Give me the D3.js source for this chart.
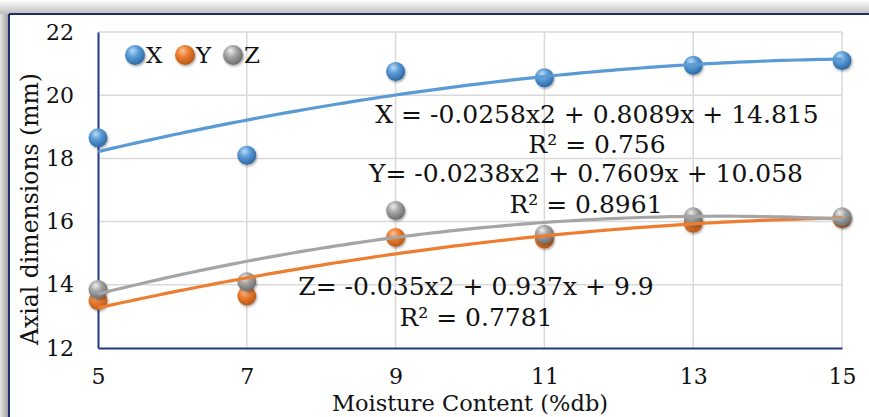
<!DOCTYPE html>
<html>
<head>
<meta charset="utf-8">
<script src="https://cdn.jsdelivr.net/npm/d3@7"></script>
<style>
  body { margin: 0; background: #fff; }
  text { font-family: "DejaVu Serif", serif; fill: #111; }
</style>
</head>
<body>
<div id="chart"></div>
<script>
// data
var moisture = [5, 7, 9, 11, 13, 15];
var xValues = [18.65, 18.1, 20.75, 20.55, 20.95, 21.1];
var yValues = [13.5, 13.65, 15.5, 15.45, 15.95, 16.1];
var zValues = [13.85, 14.1, 16.35, 15.6, 16.15, 16.15];
var seriesNames = ["X", "Y", "Z"];
// trendline coefficients [a, b, c] for a*x^2 + b*x + c, as printed on the chart
var xCoef = [-0.0258, 0.8089, 14.815];
var yCoef = [-0.0238, 0.7609, 10.058];
var zCoef = [-0.035, 0.937, 9.9];
var equationLabels = [
    ["X = -0.0258x2 + 0.8089x + 14.815", "R² = 0.756"],
    ["Y= -0.0238x2 + 0.7609x + 10.058", "R² = 0.8961"],
    ["Z= -0.035x2 + 0.937x + 9.9", "R² = 0.7781"]
];
var xTicks = [5, 7, 9, 11, 13, 15];
var yTicks = [12, 14, 16, 18, 20, 22];

function init() {
    var w = 869;
    var h = 417;
    var colors = ["#5b9bd5", "#ed7d31", "#a5a5a5"];
    var dark = ["#2e6aa6", "#b85a17", "#6e6e6e"];
    var light = ["#b9dbf7", "#fbc297", "#eeeeee"];

    var svg = d3.select("#chart").append("svg")
        .attr("width", w)
        .attr("height", h);

    var defs = svg.append("defs");

    // frame shadow gradients
    var gTop = defs.append("linearGradient").attr("id", "shTop")
        .attr("x1", 0).attr("y1", 0).attr("x2", 0).attr("y2", 1);
    gTop.append("stop").attr("offset", "0%").attr("stop-color", "#ffffff");
    gTop.append("stop").attr("offset", "100%").attr("stop-color", "#bdbdbd");
    var gLeft = defs.append("linearGradient").attr("id", "shLeft")
        .attr("x1", 0).attr("y1", 0).attr("x2", 1).attr("y2", 0);
    gLeft.append("stop").attr("offset", "0%").attr("stop-color", "#e6e6e6");
    gLeft.append("stop").attr("offset", "100%").attr("stop-color", "#9a9a9a");

    // sphere gradients for markers
    colors.forEach(function(c, i) {
        var g = defs.append("radialGradient").attr("id", "ball" + i)
            .attr("cx", "40%").attr("cy", "35%").attr("r", "65%")
            .attr("fx", "38%").attr("fy", "28%");
        g.append("stop").attr("offset", "0%").attr("stop-color", light[i]);
        g.append("stop").attr("offset", "45%").attr("stop-color", c);
        g.append("stop").attr("offset", "100%").attr("stop-color", dark[i]);
    });
    var f = defs.append("filter").attr("id", "drop")
        .attr("x", "-50%").attr("y", "-50%").attr("width", "200%").attr("height", "200%");
    f.append("feDropShadow").attr("dx", 1).attr("dy", 1.5).attr("stdDeviation", 1.3)
        .attr("flood-color", "#000").attr("flood-opacity", 0.35);

    // chart frame
    svg.append("rect").attr("x", 0).attr("y", 0).attr("width", w).attr("height", 14)
        .attr("fill", "url(#shTop)");
    svg.append("rect").attr("x", 0).attr("y", 14).attr("width", 9).attr("height", h - 14)
        .attr("fill", "url(#shLeft)");
    svg.append("line").attr("x1", 9).attr("y1", 14).attr("x2", w).attr("y2", 14)
        .attr("stroke", "#1f3070").attr("stroke-width", 2);
    svg.append("line").attr("x1", 9).attr("y1", 14).attr("x2", 9).attr("y2", h)
        .attr("stroke", "#1f3070").attr("stroke-width", 2);

    // Scales
    var xScale = d3.scaleLinear().domain([5, 15]).range([98, 842]);
    var yScale = d3.scaleLinear().domain([12, 22]).range([348, 32]);

    // gridlines
    svg.append("g").selectAll("line.v")
        .data(xTicks.slice(1))
        .enter().append("line")
        .attr("x1", d => xScale(d)).attr("x2", d => xScale(d))
        .attr("y1", yScale(22)).attr("y2", yScale(12))
        .attr("stroke", "#d9d9d9").attr("stroke-width", 1.5);
    svg.append("g").selectAll("line.h")
        .data(yTicks.slice(1))
        .enter().append("line")
        .attr("x1", xScale(5)).attr("x2", xScale(15))
        .attr("y1", d => yScale(d)).attr("y2", d => yScale(d))
        .attr("stroke", "#d9d9d9").attr("stroke-width", 1.5);

    // Axes
    var xAxis = d3.axisBottom(xScale).tickValues(xTicks).tickSize(0).tickPadding(20)
        .tickFormat(d3.format("d"));
    var yAxis = d3.axisLeft(yScale).tickValues(yTicks).tickSize(0).tickPadding(24)
        .tickFormat(d3.format("d"));

    var gx = svg.append("g")
        .attr("transform", `translate(0,${yScale(12)})`)
        .call(xAxis);
    var gy = svg.append("g")
        .attr("transform", `translate(${xScale(5)},0)`)
        .call(yAxis);
    [gx, gy].forEach(function(g) {
        g.select(".domain").attr("stroke", "#1f3a82").attr("stroke-width", 2);
        g.selectAll("text").attr("font-size", "22px").attr("font-family", "DejaVu Serif")
            .attr("fill", "#111");
    });

    // axis titles
    svg.append("text")
        .attr("x", 470).attr("y", 411)
        .attr("text-anchor", "middle")
        .attr("font-size", "22.5px")
        .text("Moisture Content (%db)");
    svg.append("text")
        .attr("transform", "translate(38,209)rotate(-90)")
        .attr("text-anchor", "middle")
        .attr("font-size", "23.5px")
        .text("Axial dimensions (mm)");

    var series = [xValues, yValues, zValues];
    var coefs = [xCoef, yCoef, zCoef];

    // markers
    series.forEach(function(vals, i) {
        svg.append("g").selectAll("circle")
            .data(vals)
            .enter().append("circle")
            .attr("cx", (d, j) => xScale(moisture[j]))
            .attr("cy", d => yScale(d))
            .attr("r", 9.5)
            .attr("fill", "url(#ball" + i + ")")
            .attr("filter", "url(#drop)");
    });

    // polynomial trendlines
    var line = d3.line()
        .x(d => xScale(d[0]))
        .y(d => yScale(d[1]));
    var xs = d3.range(5, 15.001, 0.1);
    coefs.forEach(function(c, i) {
        svg.append("path")
            .datum(xs.map(x => [x, c[0] * x * x + c[1] * x + c[2]]))
            .attr("fill", "none")
            .attr("stroke", colors[i])
            .attr("stroke-width", 3.2)
            .attr("d", line);
    });

    // equation labels
    var eqPos = [[597, 123, 153], [586, 182, 213], [476, 295, 326]];
    equationLabels.forEach(function(lbl, i) {
        svg.append("text")
            .attr("x", eqPos[i][0]).attr("y", eqPos[i][1])
            .attr("text-anchor", "middle").attr("font-size", "25px")
            .text(lbl[0]);
        svg.append("text")
            .attr("x", eqPos[i][0]).attr("y", eqPos[i][2])
            .attr("text-anchor", "middle").attr("font-size", "25px")
            .text(lbl[1]);
    });

    // legend
    var legX = [135, 185, 233];
    var leg = svg.append("g").selectAll("g")
        .data(seriesNames)
        .enter().append("g")
        .attr("transform", (d, i) => `translate(${legX[i]},55)`);
    leg.append("circle")
        .attr("r", 10)
        .attr("fill", (d, i) => "url(#ball" + i + ")")
        .attr("filter", "url(#drop)");
    leg.append("text")
        .attr("x", 11).attr("y", 8)
        .attr("font-size", "23px")
        .text(d => d);
}

window.onload = init;
</script>
</body>
</html>
